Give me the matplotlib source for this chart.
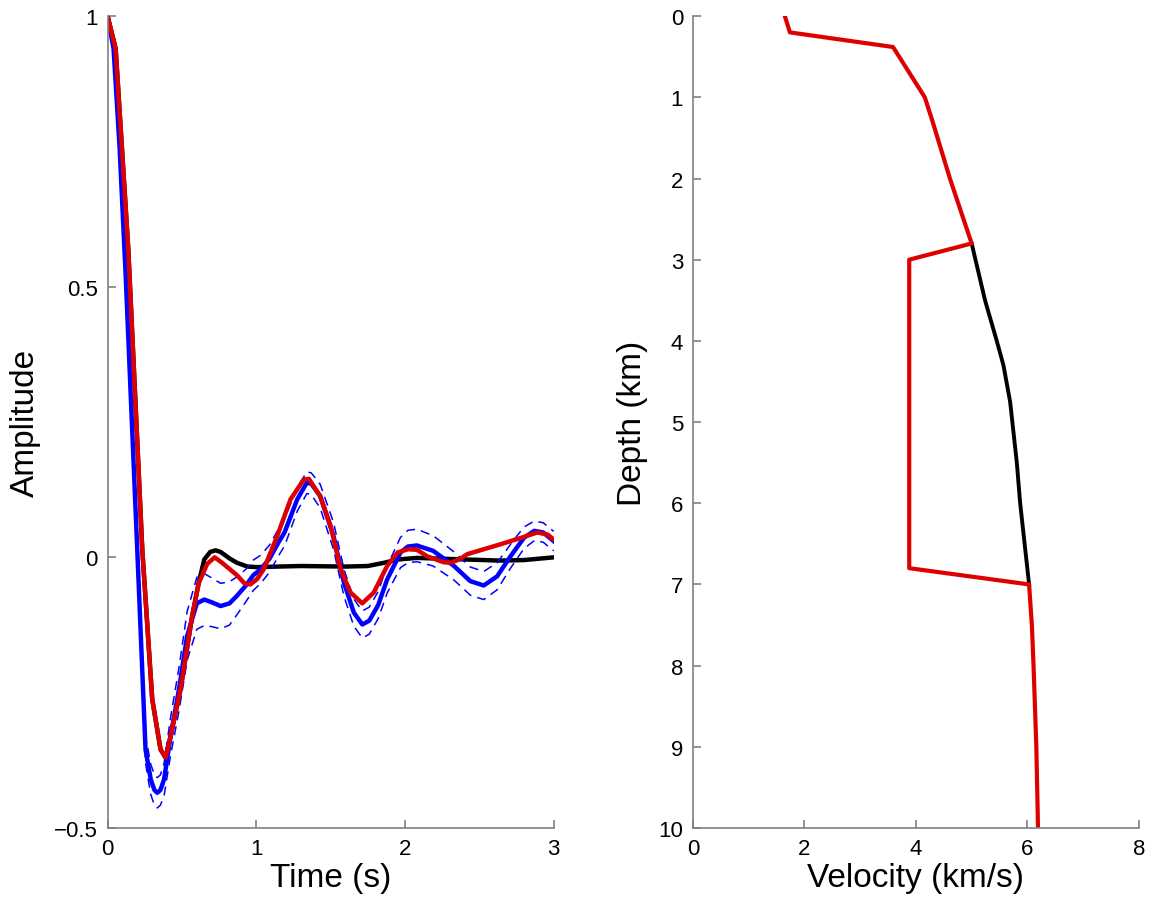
import numpy as np
import matplotlib
matplotlib.use("Agg")
import matplotlib.pyplot as plt

plt.rcParams['font.family'] = ['Liberation Sans', 'DejaVu Sans']

# waveform comparison (left panel)
t_obs = [0.00, 0.04, 0.08, 0.12, 0.16, 0.20, 0.255, 0.29, 0.315, 0.334, 0.355, 0.38,
         0.424, 0.48, 0.535, 0.60, 0.65, 0.70, 0.76, 0.82, 0.87, 0.93, 0.98, 1.03,
         1.09, 1.15, 1.19, 1.275, 1.34, 1.37, 1.43, 1.52, 1.59, 1.656, 1.713, 1.76,
         1.82, 1.88, 1.97, 2.02, 2.08, 2.19, 2.33, 2.44, 2.53, 2.62, 2.71, 2.80,
         2.87, 2.93, 3.00]
amp_obs = [1.00, 0.94, 0.76, 0.53, 0.27, 0.01, -0.355, -0.41, -0.43, -0.435, -0.43, -0.41,
           -0.33, -0.244, -0.145, -0.085, -0.078, -0.083, -0.09, -0.085, -0.071, -0.052, -0.033, -0.022,
           -0.002, 0.028, 0.046, 0.107, 0.138, 0.136, 0.113, 0.039, -0.047, -0.102, -0.124, -0.117,
           -0.088, -0.041, 0.009, 0.020, 0.022, 0.012, -0.016, -0.044, -0.052, -0.035, 0.002, 0.036,
           0.049, 0.046, 0.030]
obs_spread = [0.0, 0.01, 0.015, 0.02, 0.02, 0.02, 0.025, 0.028, 0.028, 0.028, 0.028, 0.03,
              0.035, 0.04, 0.045, 0.048, 0.048, 0.045, 0.042, 0.04, 0.035, 0.03, 0.028, 0.026,
              0.025, 0.025, 0.025, 0.022, 0.02, 0.02, 0.022, 0.025, 0.025, 0.025, 0.025, 0.025,
              0.025, 0.025, 0.028, 0.03, 0.03, 0.028, 0.026, 0.026, 0.026, 0.025, 0.022, 0.02,
              0.018, 0.018, 0.018]

t_lvz = [0.00, 0.054, 0.10, 0.139, 0.19, 0.233, 0.30, 0.356, 0.39, 0.424, 0.49, 0.569,
         0.614, 0.67, 0.72, 0.77, 0.87, 0.92, 0.96, 1.006, 1.05, 1.14, 1.23, 1.32,
         1.354, 1.43, 1.50, 1.567, 1.634, 1.713, 1.79, 1.88, 1.95, 2.02, 2.08, 2.15,
         2.26, 2.31, 2.37, 2.42, 2.53, 2.64, 2.78, 2.89, 2.96, 3.00]
amp_lvz = [1.00, 0.94, 0.74, 0.569, 0.27, 0.015, -0.262, -0.355, -0.37, -0.33, -0.244, -0.108,
           -0.047, -0.012, 0.0, -0.01, -0.033, -0.048, -0.05, -0.04, -0.022, 0.039, 0.107, 0.144,
           0.145, 0.113, 0.058, -0.022, -0.065, -0.085, -0.065, -0.016, 0.009, 0.015, 0.014, 0.002,
           -0.009, -0.01, -0.003, 0.006, 0.015, 0.024, 0.036, 0.046, 0.042, 0.033]

t_ref = [0.00, 0.054, 0.10, 0.139, 0.19, 0.233, 0.30, 0.356, 0.39, 0.424, 0.49, 0.569,
         0.61, 0.65, 0.69, 0.726, 0.76, 0.82, 0.87, 0.94, 1.00, 1.30, 1.60, 1.75,
         1.86, 1.95, 2.08, 2.30, 2.64, 2.80, 3.00]
amp_ref = [1.00, 0.94, 0.74, 0.569, 0.27, 0.015, -0.262, -0.355, -0.37, -0.33, -0.244, -0.108,
           -0.05, -0.004, 0.01, 0.013, 0.01, -0.002, -0.01, -0.017, -0.018, -0.016, -0.017, -0.016,
           -0.01, -0.004, -0.001, -0.003, -0.006, -0.005, 0.0]

# velocity models (right panel)
vel_lvz = [1.65, 1.74, 3.59, 4.16, 4.30, 4.61, 5.00, 3.88, 3.88, 6.03, 6.08, 6.11, 6.16, 6.19]
dep_lvz = [0.0, 0.2, 0.38, 1.0, 1.3, 2.0, 2.8, 3.0, 6.8, 7.0, 7.5, 8.0, 9.0, 10.0]
vel_ref = [5.00, 5.24, 5.45, 5.57, 5.69, 5.81, 5.87, 5.95, 6.03]
dep_ref = [2.8, 3.5, 4.0, 4.3, 4.75, 5.5, 6.0, 6.5, 7.0]

RED = '#dd0000'
GRAY = '#808080'


def style_axes(ax):
    for side in ('top', 'right'):
        ax.spines[side].set_visible(False)
    for side in ('left', 'bottom'):
        ax.spines[side].set_color(GRAY)
        ax.spines[side].set_linewidth(1.2)
    ax.tick_params(direction='in', length=6, width=1.2, color=GRAY,
                   labelsize=16, labelcolor='black', pad=7)


fig = plt.figure(figsize=(11.51, 9.03), dpi=100)

ax1 = fig.add_axes([0.0935, 0.082, 0.3875, 0.899])
obs = np.array(amp_obs)
spread = np.array(obs_spread)
ax1.plot(t_ref, amp_ref, color='black', lw=3.2, solid_joinstyle='round')
ax1.plot(t_obs, obs + spread, color='blue', lw=1.1, dashes=(6, 4))
ax1.plot(t_obs, obs - spread, color='blue', lw=1.1, dashes=(6, 4))
ax1.plot(t_obs, obs, color='blue', lw=3.2, solid_joinstyle='round')
ax1.plot(t_lvz, amp_lvz, color=RED, lw=3.2, solid_joinstyle='round')
ax1.set_xlim(0, 3)
ax1.set_ylim(-0.5, 1)
ax1.set_xticks([0, 1, 2, 3])
ax1.set_yticks([-0.5, 0, 0.5, 1])
ax1.set_yticklabels(['\u22120.5', '0', '0.5', '1'])
style_axes(ax1)
ax1.set_xlabel('Time (s)', fontsize=24)
ax1.set_ylabel('Amplitude', fontsize=24)
ax1.xaxis.set_label_coords(0.5, -0.042)
ax1.yaxis.set_label_coords(-0.15, 0.5)

ax2 = fig.add_axes([0.602, 0.082, 0.3875, 0.899])
ax2.plot(vel_ref, dep_ref, color='black', lw=2.8, solid_joinstyle='round')
ax2.plot(vel_lvz, dep_lvz, color=RED, lw=3.0)
ax2.set_xlim(0, 8)
ax2.set_ylim(10, 0)
ax2.set_xticks([0, 2, 4, 6, 8])
ax2.set_yticks(range(11))
style_axes(ax2)
ax2.set_xlabel('Velocity (km/s)', fontsize=24)
ax2.set_ylabel('Depth (km)', fontsize=24)
ax2.xaxis.set_label_coords(0.5, -0.042)
ax2.yaxis.set_label_coords(-0.10, 0.5)

fig.savefig('out.png', dpi=100)
